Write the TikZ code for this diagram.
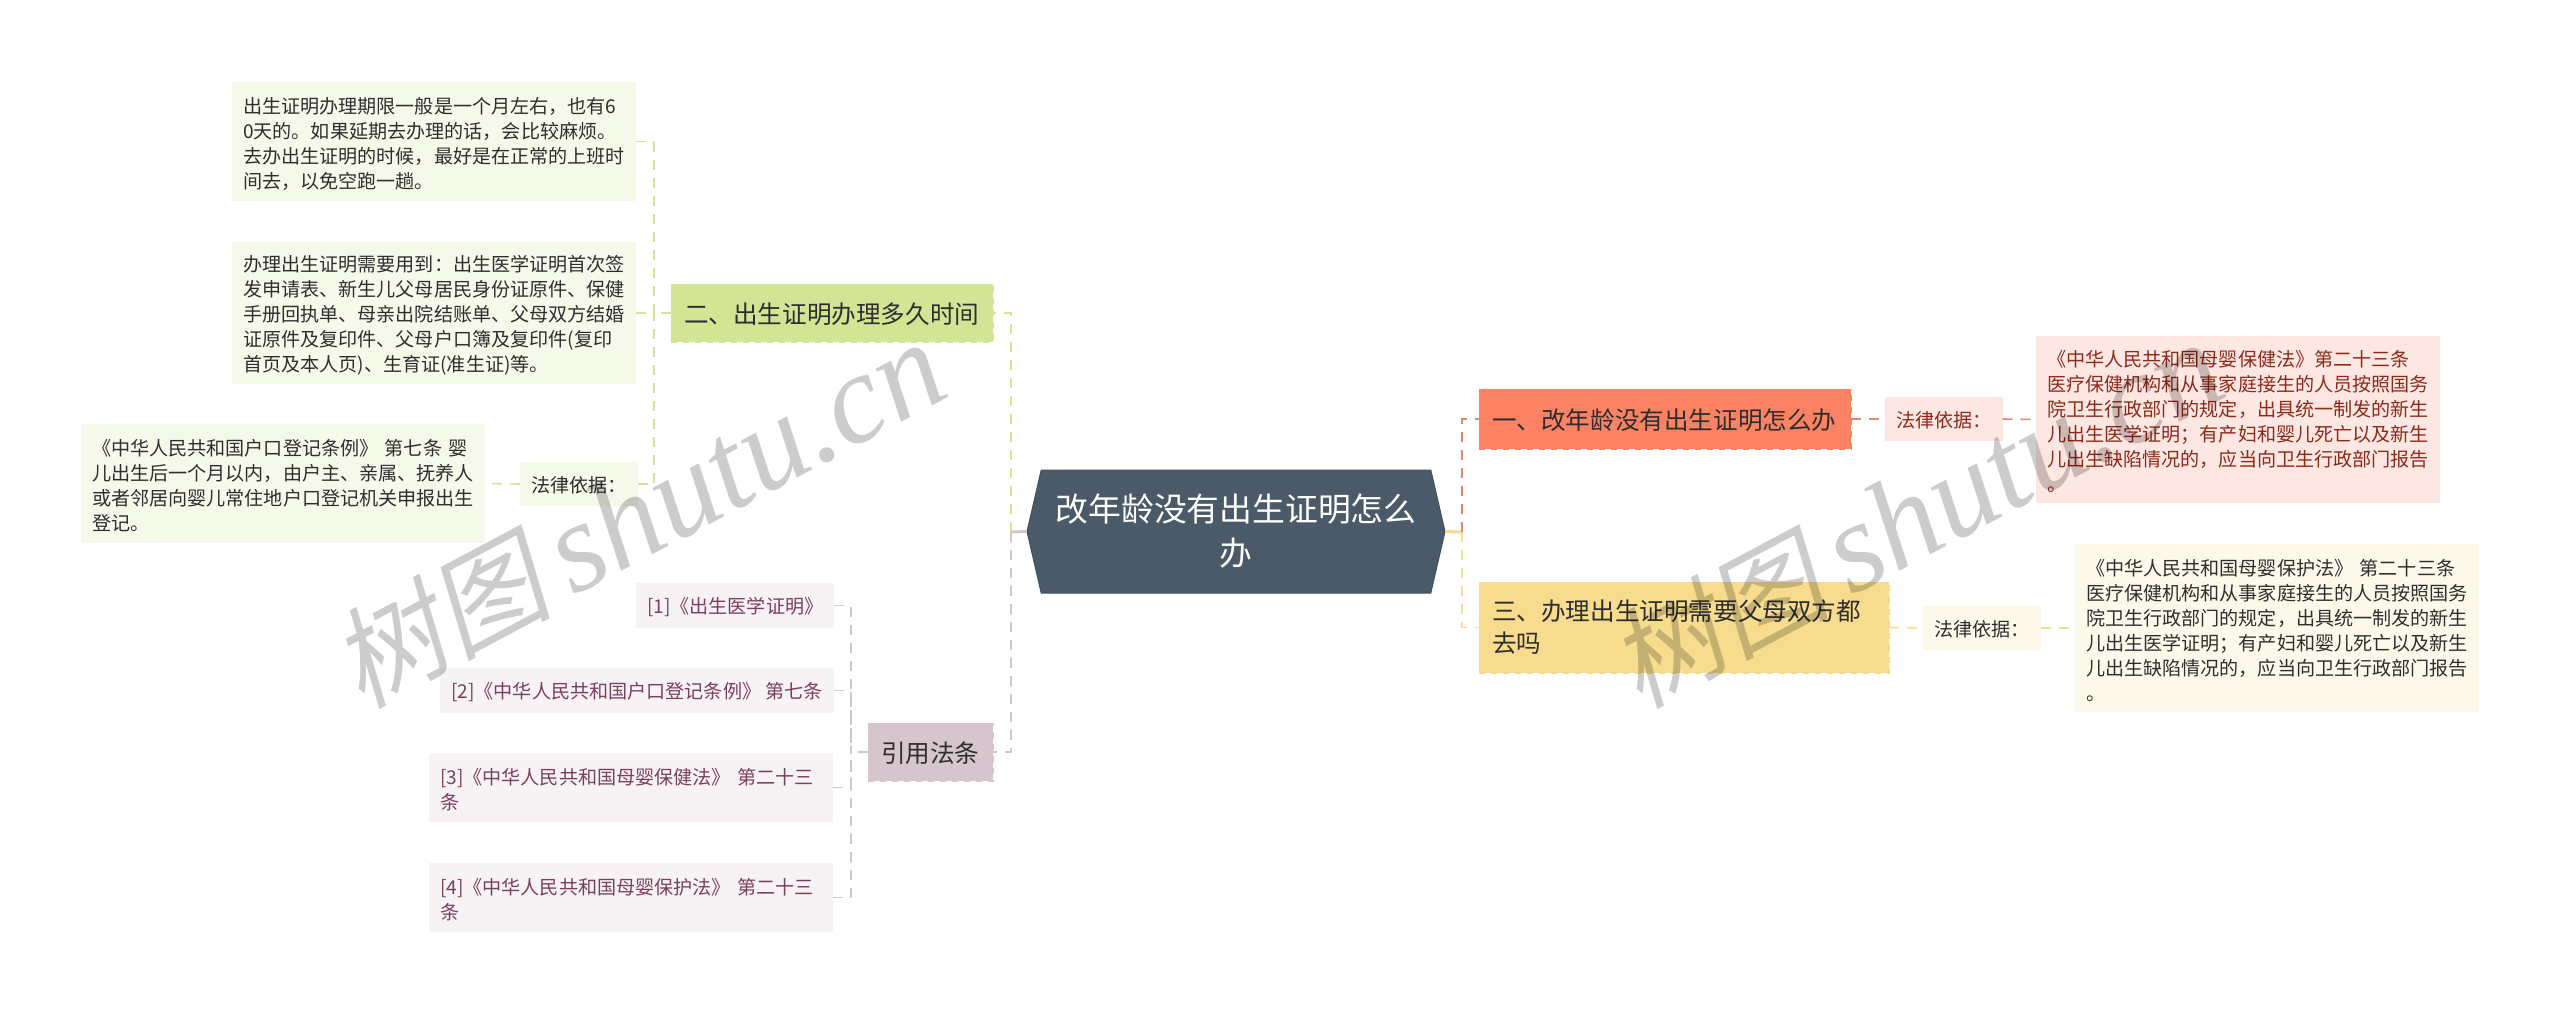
\documentclass[tikz,border=0pt]{standalone}
\usepackage{fontspec}
\usepackage{xcolor}
\usepackage{tikz}
\usetikzlibrary{shapes.symbols}
\setmainfont{Noto Sans CJK SC}
\newfontfamily\markfont[FakeSlant=0.2]{Noto Sans CJK SC}
\newfontfamily\marklatin[ItalicFont=Liberation Serif Italic]{Liberation Serif}
\definecolor{rootfill}{HTML}{4A5A68}
\definecolor{redfill}{HTML}{FC8264}
\definecolor{redline}{HTML}{E8866C}
\definecolor{redpale}{HTML}{FDE7E2}
\definecolor{redtext}{HTML}{8C2A1A}
\definecolor{yellowfill}{HTML}{F6DC8C}
\definecolor{yellowpale}{HTML}{FDF9EA}
\definecolor{greenfill}{HTML}{D4E495}
\definecolor{greenpale}{HTML}{F5F9EA}
\definecolor{plumfill}{HTML}{D6C5CC}
\definecolor{plumpale}{HTML}{F7F3F5}
\definecolor{plumtext}{HTML}{7A3F5F}
\definecolor{bodytext}{HTML}{2E2E2E}
\tikzset{
  mainbox/.style={anchor=north west,inner xsep=6.5pt,inner ysep=0pt,outer sep=0pt,align=left,text=bodytext,dashed,font=\fontsize{12.3}{16}\selectfont},
  leafbox/.style={anchor=north west,inner xsep=5.5pt,inner ysep=0pt,outer sep=0pt,align=left,text=bodytext,font=\fontsize{9.55}{12.5}\selectfont},
  oneline/.style={text depth=0pt},
  manylines/.style={execute at begin node={\rule{0pt}{10.3pt}}},
  basisbox/.style={leafbox,oneline,align=center,minimum width=58pt,minimum height=22pt},
  greenleaf/.style={leafbox,manylines,fill=greenpale,text width=191pt},
  plumleaf/.style={leafbox,fill=plumpale,text=plumtext},
  markbox/.style={rotate=28,text=black,opacity=0.2,inner sep=0pt},
  linkstyle/.style={dash pattern=on 5pt off 4pt,line width=0.8pt},
  greenlink/.style={linkstyle,draw=greenfill},
  redlink/.style={linkstyle,draw=redline},
  yellowlink/.style={linkstyle,draw=yellowfill},
  plumlink/.style={linkstyle,draw=plumfill}
}
\newcommand{\markword}{{\fontsize{55}{61}\markfont 树图}\hspace{10pt}{\fontsize{64}{61}\marklatin\itshape shutu.cn}}
\begin{document}
\begin{tikzpicture}[x=0.5pt,y=-0.5pt]
\useasboundingbox (0,0) rectangle (2560,1014);

% root
\node[signal,signal to=west and east,signal pointer angle=154,fill=rootfill,draw=rootfill!90!black,line width=0.5pt,
  minimum width=209pt,minimum height=61.5pt,inner sep=0pt,text=white,align=center,font=\fontsize{16.4}{22}\selectfont] (root) at (1236,531.5) {改年龄没有出生证明怎么\\办};

% left branch
\node[mainbox,oneline,fill=greenfill,draw=greenfill,minimum height=29pt,text width=148pt] (two) at (671,284) {二、出生证明办理多久时间};
\node[greenleaf,minimum height=59.5pt] (period) at (232,82) {出生证明办理期限一般是一个月左右，也有6\\0天的。如果延期去办理的话，会比较麻烦。\\去办出生证明的时候，最好是在正常的上班时\\间去，以免空跑一趟。};
\node[greenleaf,minimum height=71pt] (papers) at (232,242) {办理出生证明需要用到：出生医学证明首次签\\发申请表、新生儿父母居民身份证原件、保健\\手册回执单、母亲出院结账单、父母双方结婚\\证原件及复印件、父母户口簿及复印件(复印\\首页及本人页)、生育证(准生证)等。};
\node[greenleaf,minimum height=59.5pt] (registry) at (81,424) {《中华人民共和国户口登记条例》 第七条 婴\\儿出生后一个月以内，由户主、亲属、抚养人\\或者邻居向婴儿常住地户口登记机关申报出生\\登记。};
\node[basisbox,fill=greenpale] (basisgreen) at (520,462) {法律依据：};

\node[mainbox,oneline,fill=plumfill,draw=plumfill,minimum height=29pt,text width=49.5pt] (cite) at (868,723) {引用法条};
\node[plumleaf,oneline,minimum width=99pt,minimum height=22.5pt] (citeone) at (636,583) {[1]《出生医学证明》};
\node[plumleaf,oneline,minimum width=197pt,minimum height=22.5pt] (citetwo) at (440,668) {[2]《中华人民共和国户口登记条例》 第七条};
\node[plumleaf,manylines,minimum height=34.5pt,text width=191pt] (citethree) at (429,753) {[3]《中华人民共和国母婴保健法》 第二十三\\条};
\node[plumleaf,manylines,minimum height=34.5pt,text width=191pt] (citefour) at (429,863) {[4]《中华人民共和国母婴保护法》 第二十三\\条};

% right branch
\node[mainbox,oneline,fill=redfill,draw=redfill,minimum height=30pt,text width=173pt] (one) at (1479,389) {一、改年龄没有出生证明怎么办};
\node[mainbox,fill=yellowfill,draw=yellowfill,minimum height=45.5pt,text width=192pt] (three) at (1479,582) {三、办理出生证明需要父母双方都\\去吗};
\node[basisbox,fill=redpale,text=redtext] (basisred) at (1885,397) {法律依据：};
\node[leafbox,manylines,fill=redpale,text=redtext,minimum height=83.5pt,text width=191pt] (health) at (2036,336) {《中华人民共和国母婴保健法》第二十三条\\医疗保健机构和从事家庭接生的人员按照国务\\院卫生行政部门的规定，出具统一制发的新生\\儿出生医学证明；有产妇和婴儿死亡以及新生\\儿出生缺陷情况的，应当向卫生行政部门报告\\。};
\node[basisbox,fill=yellowpale] (basisyellow) at (1923,606) {法律依据：};
\node[leafbox,manylines,fill=yellowpale,minimum height=84pt,text width=191pt] (care) at (2075,544) {《中华人民共和国母婴保护法》 第二十三条\\医疗保健机构和从事家庭接生的人员按照国务\\院卫生行政部门的规定，出具统一制发的新生\\儿出生医学证明；有产妇和婴儿死亡以及新生\\儿出生缺陷情况的，应当向卫生行政部门报告\\。};

% connectors
\coordinate (rootleft) at (1011,532);
\coordinate (rootright) at (1462,532);
\coordinate (greenjoin) at (654,313);
\coordinate (plumjoin) at (851,752);
\draw[draw=plumfill,line width=1.5pt] (root.west) -- (rootleft);
\draw[draw=yellowfill,line width=1.5pt] (root.east) -- (rootright);
\draw[greenlink] (rootleft) |- (two.east);
\draw[plumlink] (rootleft) |- (cite.east);
\draw[redlink] (rootright) |- (one.west);
\draw[yellowlink] (rootright) |- (three.west);
\draw[greenlink] (two.west) -- (greenjoin);
\draw[greenlink] (period.east) -| (greenjoin);
\draw[greenlink] (papers.east) -- (greenjoin);
\draw[greenlink] (basisgreen.east) -| (greenjoin);
\draw[greenlink] (basisgreen.west) -- (registry.east);
\draw[plumlink] (cite.west) -- (plumjoin);
\draw[plumlink] (citeone.east) -| (plumjoin);
\draw[plumlink] (citetwo.east) -| (plumjoin);
\draw[plumlink] (citethree.east) -| (plumjoin);
\draw[plumlink] (citefour.east) -| (plumjoin);
\draw[redlink] (one.east) -- (basisred.west);
\draw[redlink] (basisred.east) -- (health.west);
\draw[yellowlink] (three.east) -- (basisyellow.west);
\draw[yellowlink] (basisyellow.east) -- (care.west);

% watermark
\node[markbox] (markleft) at (638,515) {\markword};
\node[markbox] (markright) at (1916,515) {\markword};
\end{tikzpicture}
\end{document}
